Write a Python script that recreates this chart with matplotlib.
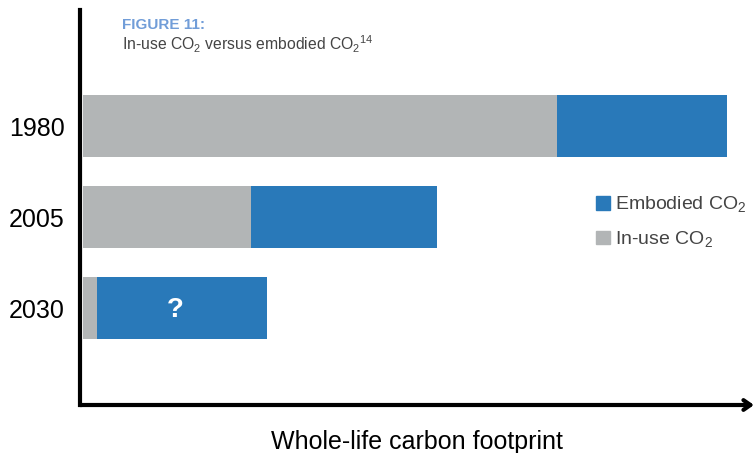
import numpy as np
import matplotlib.pyplot as plt
from matplotlib.patches import Patch

plt.rcParams['font.family'] = ['Liberation Sans', 'DejaVu Sans']
plt.rcParams['mathtext.fontset'] = 'custom'
plt.rcParams['mathtext.rm'] = 'Liberation Sans'

# whole-life footprint, arbitrary units
years = ['1980', '2005', '2030']
in_use = [474, 168, 14]
embodied = [170, 186, 170]

blue = '#2979b9'
grey = '#b2b5b6'

fig = plt.figure(figsize=(7.55, 4.53), dpi=100)
W, H = 755, 453
ax = fig.add_axes([80/W, (H-405)/H, (754-80)/W, (405-10)/H])

y = np.arange(len(years))
ax.barh(y, in_use, left=0, height=0.68, color=grey)
ax.barh(y, embodied, left=in_use, height=0.68, color=blue)

ax.text(in_use[2] + embodied[2]*0.46, y[2] + 0.02, '?', color='white', fontsize=20,
        fontweight='bold', ha='center', va='center')

ax.set_xlim(-3, 671)
ax.set_ylim(3.066, -1.275)
ax.set_yticks(y)
ax.set_yticklabels(years, fontsize=18)
ax.tick_params(axis='y', length=0, pad=11)
ax.set_xticks([])

for s in ['top', 'right', 'bottom']:
    ax.spines[s].set_visible(False)
ax.spines['left'].set_linewidth(3)
ax.annotate('', xy=(1.0, 0), xytext=(0, 0), xycoords='axes fraction',
            arrowprops=dict(arrowstyle='->,head_length=0.5,head_width=0.35',
                            lw=3, color='black', shrinkA=0, shrinkB=0))

ax.set_xlabel('Whole-life carbon footprint', fontsize=18, labelpad=18)

fig.text(122/W, 1 - 25/H, 'FIGURE 11:', color='#719dd8', fontsize=11,
         fontweight='bold', va='center')
fig.text(122/W, 1 - 44/H, 'In-use CO$_2$ versus embodied CO$_2$$^{14}$',
         color='#444444', fontsize=11.3, va='center')

handles = [Patch(color=blue, label='Embodied CO$_2$'),
           Patch(color=grey, label='In-use CO$_2$')]
fig.legend(handles=handles, loc='center left', bbox_to_anchor=(578/W, 1 - 222/H),
           frameon=False, fontsize=14, handlelength=0.72, handleheight=0.72,
           handletextpad=0.3, labelspacing=0.75, labelcolor='#444444')

fig.savefig('out.png', dpi=100)
